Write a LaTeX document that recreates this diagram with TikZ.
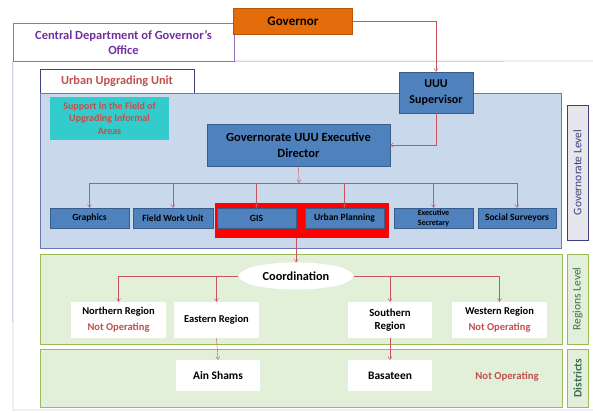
\documentclass[tikz,border=0pt]{standalone}
\usepackage{fontspec}
\setmainfont{Carlito}
\usetikzlibrary{arrows.meta,shapes.geometric}
\definecolor{uuublue}{HTML}{4F81BD}
\definecolor{uuuedge}{HTML}{385D8A}
\definecolor{panelblue}{HTML}{C9D9EB}
\definecolor{paneledge}{HTML}{6F74B6}
\definecolor{panelgreen}{HTML}{E3F0D9}
\definecolor{greenedge}{HTML}{9BBB59}
\definecolor{linkred}{HTML}{C9545A}
\definecolor{darkred}{HTML}{C0504D}
\definecolor{officepurple}{HTML}{7030A0}
\definecolor{orangebox}{HTML}{E46C0A}
\definecolor{teal}{HTML}{33CCCC}
\definecolor{levelgray}{HTML}{E6E6EC}
\definecolor{leveledge}{HTML}{404080}
\definecolor{regiontext}{HTML}{3E6B55}

\begin{document}
\begin{tikzpicture}[x=1pt,y=-1pt,
        bluebox/.style={draw=uuuedge,fill=uuublue,font=\bfseries,align=center,inner sep=1pt},
        unitbox/.style={bluebox,minimum width=79pt,minimum height=20pt,font=\bfseries\fontsize{9.5}{10}\selectfont},
        panel/.style={draw=greenedge,fill=panelgreen,line width=1pt},
        whitebox/.style={fill=white,align=center,font=\bfseries\fontsize{10.5}{16}\selectfont,inner sep=1pt},
        sidebox/.style={draw,line width=1pt,minimum height=21pt,inner sep=1pt,rotate=90},
        link/.style={draw=linkred,-{Straight Barb[length=3pt,width=4pt]}},
        notop/.style={text=darkred}]
        \useasboundingbox (0,0) rectangle (593,412);
        % office frame
        \node (office) [draw=officepurple!70,minimum width=221pt,minimum height=38pt,text=officepurple,
            align=center,font=\bfseries\fontsize{12.5}{15}\selectfont] at (123.5,42)
            {Central Department of Governor's\\Office};
        \draw[officepurple!70] (office.south east) -- (593,61);
        \draw[officepurple!70] (office.south west) -- (13,410) -- (593,410);
        \node (governor) [fill=orangebox,draw=orangebox!80!black,minimum width=119pt,minimum height=26pt,
            font=\bfseries\fontsize{13}{15}\selectfont] at (293,21) {Governor};

        % governorate level
        \node (uuu) [draw=leveledge,fill=white,minimum width=154pt,minimum height=24pt,text=darkred,
            font=\bfseries\fontsize{12.3}{14}\selectfont] at (117,81) {Urban Upgrading Unit};
        \node (gov) [draw=paneledge,fill=panelblue,line width=0.8pt,minimum width=521pt,minimum height=155pt] at (300.5,170.5) {};
        \node (support) [fill=teal,minimum width=119pt,minimum height=43pt,text=darkred,align=center,
            font=\bfseries\fontsize{10}{12.5}\selectfont] at (109.5,118.5) {Support in the Field of\\Upgrading Informal\\Areas};
        \node (supervisor) [bluebox,minimum width=74pt,minimum height=41pt,font=\bfseries\fontsize{12}{16}\selectfont]
            at (436,92.5) {UUU\\Supervisor};
        \node (director) [bluebox,minimum width=183pt,minimum height=42pt,font=\bfseries\fontsize{12.5}{16}\selectfont]
            at (298.5,145) {Governorate UUU Executive\\Director};
        \node (highlight) [fill=red,minimum width=174pt,minimum height=35pt] at (302,220.5) {};
        \node (graphics) [unitbox] at (89.5,218) {Graphics};
        \node (field) [unitbox,minimum width=80pt] at (173,218) {Field Work Unit};
        \node (gis) [unitbox] at (256.5,218) {GIS};
        \node (planning) [unitbox] at (344.5,218) {Urban Planning};
        \node (secretary) [unitbox,font=\bfseries\fontsize{8}{10}\selectfont] at (433.5,218) {Executive\\Secretary};
        \node (social) [unitbox,minimum width=78pt] at (517,218) {Social Surveyors};
        \coordinate (bus) at (299,183);

        % regions and districts
        \node (regions) [panel,minimum width=522pt,minimum height=90pt] at (301,299) {};
        \node (districts) [panel,minimum width=522pt,minimum height=58pt] at (301,378) {};
        \node (coord) [ellipse,fill=white,minimum width=115pt,minimum height=27pt,
            font=\bfseries\fontsize{12.3}{14}\selectfont] at (296,276) {Coordination};
        \node (north) [whitebox,minimum width=95pt,minimum height=36pt] at (118.5,320)
            {Northern Region\\\textcolor{darkred}{Not Operating}};
        \node (east) [whitebox,minimum width=85pt,minimum height=36pt] at (216.5,320) {Eastern Region};
        \node (south) [whitebox,minimum width=84pt,minimum height=36pt,font=\bfseries\fontsize{10.8}{13}\selectfont]
            at (390,320) {Southern\\Region};
        \node (west) [whitebox,minimum width=95pt,minimum height=36pt] at (499.5,320)
            {Western Region\\\textcolor{darkred}{Not Operating}};
        \node (ainshams) [whitebox,minimum width=84pt,minimum height=31pt,font=\bfseries\fontsize{11.5}{13}\selectfont]
            at (218,375.5) {Ain Shams};
        \node (basateen) [whitebox,minimum width=84pt,minimum height=31pt,font=\bfseries\fontsize{11.5}{13}\selectfont]
            at (390,375.5) {Basateen};
        \node (notop) [notop,font=\bfseries\fontsize{10.7}{12}\selectfont] at (507,377) {Not Operating};

        % level labels
        \node (govlevel) [sidebox,draw=leveledge,fill=levelgray,minimum width=135pt,text=leveledge,
            font=\fontsize{11.5}{13}\selectfont] at (577.5,172.5) {Governorate Level};
        \node (reglevel) [sidebox,draw=greenedge,fill=panelgreen,minimum width=90pt,text=regiontext,
            font=\fontsize{11.5}{13}\selectfont] at (577.5,299) {Regions Level};
        \node (distlevel) [sidebox,draw=greenedge,fill=panelgreen,minimum width=58pt,text=regiontext,
            font=\bfseries\fontsize{11.5}{13}\selectfont] at (577.5,378) {Districts};

        % connectors
        \draw[link] (governor.east) -| (supervisor.north);
        \draw[link] (supervisor.south) |- (director.east);
        \draw[link] (director.south) -- (bus);
        \draw[linkred] (bus -| graphics.north) -- (bus -| social.north);
        \foreach \unit in {graphics,field,gis,planning,secretary,social}
            \draw[link] (bus -| \unit.north) -- (\unit.north);
        \draw[link] (highlight.south -| coord.north) -- (coord.north);
        \draw[link] (coord.west) -| (north.north);
        \draw[link] (coord.west -| east.north) -- (east.north);
        \draw[link] (coord.east) -| (west.north);
        \draw[link] (coord.east -| south.north) -- (south.north);
        \draw[link] (east.south) -- (ainshams.north);
        \draw[link] (south.south) -- (basateen.north);
\end{tikzpicture}
\end{document}
